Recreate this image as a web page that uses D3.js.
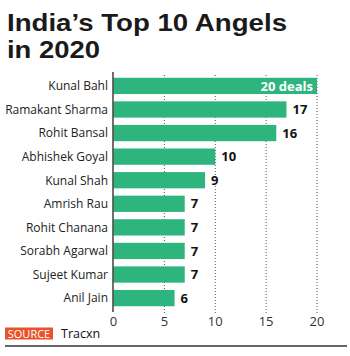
<!DOCTYPE html>
<html><head><meta charset="utf-8">
<script src="https://cdn.jsdelivr.net/npm/d3@7"></script>
<style>
body{margin:0;background:#fff;}
svg{display:block;font-family:"Open Sans","Noto Sans",sans-serif;}
</style></head>
<body><svg id="c" width="350" height="356"></svg>
<script>
const names = ["Kunal Bahl","Ramakant Sharma","Rohit Bansal","Abhishek Goyal","Kunal Shah","Amrish Rau","Rohit Chanana","Sorabh Agarwal","Sujeet Kumar","Anil Jain"];
const deals = [20,17,16,10,9,7,7,7,7,6];
const ticks = [0,5,10,15,20];
const titleLines = ["India\u2019s Top 10 Angels","in 2020"];
const titleWidths = [280,93];

const svg = d3.select("#c");
const x = d3.scaleLinear().domain([0,20]).range([113.5,317]);
const y = d3.scaleBand().domain(names).range([74,310]).paddingInner(0.31).paddingOuter(0.16);

svg.selectAll("text.title").data(titleLines).join("text").attr("class","title")
  .attr("font-family","'Liberation Sans', Arial, sans-serif").attr("font-weight","bold")
  .attr("font-size",24).attr("fill","#1a1a1a")
  .attr("x",7).attr("y",(d,i)=>30.5+i*27)
  .attr("textLength",(d,i)=>titleWidths[i]).attr("lengthAdjust","spacingAndGlyphs")
  .text(d=>d);

// grid
svg.append("g").selectAll("line").data(ticks.slice(1)).join("line")
  .attr("x1",d=>x(d)).attr("x2",d=>x(d)).attr("y1",75).attr("y2",315)
  .attr("stroke","#555").attr("stroke-width",1).attr("stroke-dasharray","1,2");

svg.append("g").selectAll("rect").data(names).join("rect")
  .attr("x",x(0)).attr("y",d=>y(d)).attr("height",y.bandwidth())
  .attr("width",(d,i)=>x(deals[i])-x(0)).attr("fill","#2eb57e");

svg.append("line").attr("x1",113).attr("x2",113).attr("y1",72).attr("y2",312)
  .attr("stroke","#222").attr("stroke-width",1.3);

// category labels
svg.append("g").selectAll("text").data(names).join("text")
  .attr("x",108).attr("y",d=>y(d)+y.bandwidth()/2).attr("dy","0.36em")
  .attr("text-anchor","end").attr("font-size",12).attr("fill","#222").text(d=>d);

// value labels
svg.append("g").selectAll("text").data(deals).join("text")
  .attr("x",(d,i)=> i===0 ? x(d)-4 : x(d)+6)
  .attr("y",(d,i)=>y(names[i])+y.bandwidth()/2).attr("dy","0.36em")
  .attr("text-anchor",(d,i)=> i===0 ? "end":"start")
  .attr("font-size",13).attr("font-weight","bold")
  .attr("fill",(d,i)=> i===0 ? "#fff":"#111")
  .text((d,i)=> i===0 ? d+" deals" : d);

// axis ticks
svg.append("g").selectAll("text").data(ticks).join("text")
  .attr("x",d=>x(d)).attr("y",326).attr("text-anchor","middle")
  .attr("font-size",13).attr("fill","#333").text(d=>d);

// source
svg.append("rect").attr("x",5).attr("y",327.5).attr("width",48).attr("height",12).attr("fill","#e8532b");
svg.append("text").attr("x",29).attr("y",337.5).attr("text-anchor","middle")
  .attr("font-size",11).attr("fill","#fff").text("SOURCE");
svg.append("text").attr("x",61).attr("y",338).attr("font-size",12.5).attr("fill","#111").text("Tracxn");
svg.append("line").attr("x1",5).attr("x2",347).attr("y1",346).attr("y2",346)
  .attr("stroke","#666").attr("stroke-width",2);
</script></body></html>
